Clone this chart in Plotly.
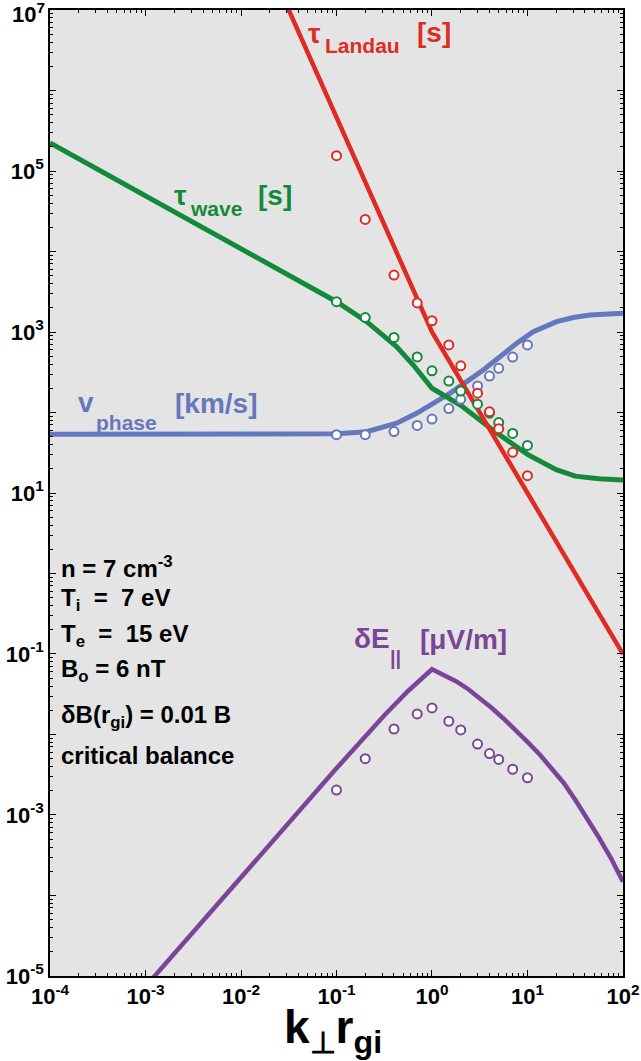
import plotly.graph_objects as go

# ---------------- data ----------------
k_marks = [0.1, 0.2, 0.4, 0.7, 1, 1.5, 2, 3, 4, 5, 7, 10]
tau_landau_pts = [1.55e5, 2.5e4, 5.1e3, 2.3e3, 1.38e3, 690, 380, 174, 102, 63, 32, 16.4]
tau_wave_pts = [2380, 1510, 855, 490, 330, 246, 185, 127, 98, 75, 55, 39]
v_phase_pts = [53, 53, 58, 69, 83, 112, 146, 214, 284, 354, 488, 690]
dE_pts = [2.04e-3, 5.0e-3, 0.0117, 0.018, 0.0214, 0.0146, 0.0114, 7.6e-3, 5.8e-3, 4.9e-3, 3.7e-3, 2.9e-3]

k_landau = [0.02, 0.1, 1, 10, 100]
tau_landau = [3.4e7, 4.68e5, 1000, 10, 0.1]

k_wave = [1e-4, 1e-3, 1e-2, 0.1, 0.207, 0.427, 0.637, 0.953, 1.0, 2.0, 4.47, 10, 20, 31.6, 56, 100]
tau_wave = [2.24e5, 4.9e4, 1.07e4, 2377, 1343, 656, 389, 209, 200, 123, 59, 30.2, 19.5, 16.2, 15.0, 14.5]

k_phase = [1e-4, 0.042, 0.1, 0.207, 0.427, 0.69, 1.03, 1.54, 2.31, 3.44, 5.15, 7.71, 11.5, 16, 20.2, 30.2, 45.1, 100]
v_phase = [53.6, 53.6, 54.3, 57.8, 73.5, 97.7, 130, 173, 242, 337, 493, 724, 1009, 1220, 1343, 1514, 1622, 1706]

k_dE = [1e-3, 3.16e-3, 1e-2, 0.0316, 0.1, 0.316, 0.562, 1.0, 1.35, 1.8, 2.4, 3.2, 4.2, 5.6, 7.5, 10,
        13.5, 18, 24, 32, 42, 56, 75, 100]
dE = [7.4e-6, 3.5e-5, 1.7e-4, 8.2e-4, 3.8e-3, 0.0172, 0.0347, 0.0646, 0.0545, 0.0457, 0.0365, 0.0282,
      0.0215, 0.0158, 0.0114, 0.0081, 0.0056, 0.0038, 0.0025, 0.00151, 0.00092, 0.000525, 0.00029, 0.000148]

x_exps = [-4, -3, -2, -1, 0, 1, 2]
y_exps = [-5, -4, -3, -2, -1, 0, 1, 2, 3, 4, 5, 6, 7]
y_labelled = [-5, -3, -1, 1, 3, 5]      # 10^7 is written separately (kept inside the page)

# ---------------- style ----------------
RED = "#DF2B24"
GREEN = "#128A3A"
BLUE = "#6577BD"
PURPLE = "#7A4599"
FONT = "Liberation Sans, Arial, Helvetica, sans-serif"

W, H = 641, 1061
L, R, T, B = 50, 623, 10, 976

fig = go.Figure()

for xs, ys, col, w in [(k_phase, v_phase, BLUE, 5),
                       (k_wave, tau_wave, GREEN, 5),
                       (k_landau, tau_landau, RED, 4.5),
                       (k_dE, dE, PURPLE, 4.5)]:
    fig.add_trace(go.Scatter(x=xs, y=ys, mode="lines",
                             line=dict(color=col, width=w), hoverinfo="skip"))

for ys, col in [(v_phase_pts, BLUE), (tau_wave_pts, GREEN),
                (tau_landau_pts, RED), (dE_pts, PURPLE)]:
    fig.add_trace(go.Scatter(x=k_marks, y=ys, mode="markers",
                             marker=dict(symbol="circle", size=9, color="white",
                                         line=dict(color=col, width=2)),
                             hoverinfo="skip"))


def ann(text, px, py, size, color="black", xanchor="left", yanchor="middle"):
    fig.add_annotation(text=text, xref="paper", yref="paper",
                       x=(px - L) / (R - L), y=(B - py) / (B - T),
                       xanchor=xanchor, yanchor=yanchor, showarrow=False,
                       font=dict(family=FONT, size=size, color=color, weight="bold"))


# curve labels
ann("τ", 306, 33, 28, RED)
ann("Landau", 323, 46, 21, RED)
ann("[s]", 415, 32, 28, RED)

ann("τ", 172, 195, 28, GREEN)
ann("wave", 188, 209, 21, GREEN)
ann("[s]", 256, 195, 28, GREEN)

ann("v", 76, 402, 28, BLUE)
ann("phase", 94, 422, 21, BLUE)
ann("[km/s]", 173, 403, 28, BLUE)

ann("δE", 352, 638, 28, PURPLE)
ann("||", 388, 658, 20, PURPLE)
ann("[μV/m]", 418, 639, 28, PURPLE)

# parameter block
ann("n = 7 cm<sup>-3</sup>", 59, 567, 24)
ann("T<sub>i</sub>\u00a0 = \u00a07 eV", 59, 599, 24)
ann("T<sub>e</sub>\u00a0 = \u00a015 eV", 59, 635, 24)
ann("B<sub>o</sub> = 6 nT", 59, 670, 24)
ann("δB(r<sub>gi</sub>) = 0.01 B", 59, 716, 24)
ann("critical balance", 59, 755, 24)

# top y label, nudged down as in the reference
ann("10<sup>7</sup>", 47, 13, 22, xanchor="right")

# x-axis title
ann('k<sub><span style="font-size:30px">⊥</span></sub>r<sub>gi</sub>', 282, 1030, 46)

common = dict(type="log", ticks="inside", ticklen=6, tickwidth=1.3, tickcolor="black",
              showline=True, linecolor="black", linewidth=1.5, mirror="ticks",
              showgrid=False, zeroline=False, ticklabeloverflow="allow",
              tickfont=dict(family=FONT, size=22, color="black", weight="bold"))

fig.update_xaxes(range=[-4.0004, 2.0004],
                 tickmode="array",
                 tickvals=[10.0 ** e for e in x_exps],
                 ticktext=[f"10<sup>{e}</sup>" for e in x_exps],
                 minor=dict(tickmode="array",
                            tickvals=[m * 10.0 ** e for e in x_exps[:-1] for m in range(2, 10)],
                            ticks="inside", ticklen=3.5, tickwidth=1, tickcolor="black",
                            showgrid=False),
                 **common)
fig.update_yaxes(range=[-5.0004, 7.0004],
                 tickmode="array",
                 tickvals=[10.0 ** e for e in y_exps],
                 ticktext=[f"10<sup>{e}</sup>" if e in y_labelled else "" for e in y_exps],
                 minor=dict(tickmode="array",
                            tickvals=[m * 10.0 ** e for e in y_exps[:-1] for m in range(2, 10)],
                            ticks="inside", ticklen=3.5, tickwidth=1, tickcolor="black",
                            showgrid=False),
                 **common)

fig.update_layout(width=W, height=H,
                  margin=dict(l=L, r=W - R, t=T, b=H - B, autoexpand=False),
                  paper_bgcolor="white", plot_bgcolor="#E4E4E4",
                  showlegend=False,
                  font=dict(family=FONT, size=22, color="black", weight="bold"))

# remove the default 8px page margin so the 641x1061 figure fills the window exactly
fig.write_html("out.html", config={"displayModeBar": False},
               post_script="document.body.style.margin='0';")
